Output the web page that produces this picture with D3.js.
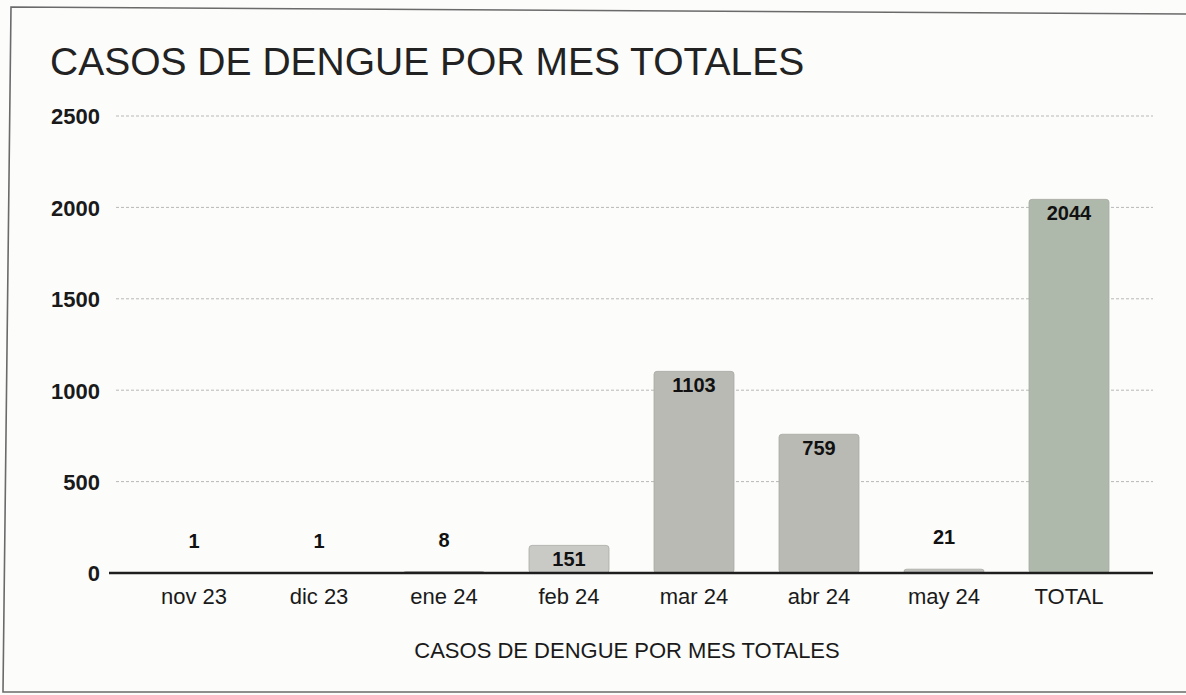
<!DOCTYPE html>
<html>
<head>
<meta charset="utf-8">
<script src="https://cdn.jsdelivr.net/npm/d3@7/dist/d3.min.js"></script>
<style>
  html, body { margin: 0; padding: 0; background: #fcfcfb; }
  svg { display: block; }
  text { font-family: "Liberation Sans", Arial, sans-serif; fill: #1a1a1a; }
</style>
</head>
<body>
<svg id="chart" width="1186" height="695"></svg>
<script>
// ---- data ----
const categories = ["nov 23", "dic 23", "ene 24", "feb 24", "mar 24", "abr 24", "may 24", "TOTAL"];
const values = [1, 1, 8, 151, 1103, 759, 21, 2044];
const yTicks = [0, 500, 1000, 1500, 2000, 2500];
const chartTitle = "CASOS DE DENGUE POR MES TOTALES";
const axisTitle = "CASOS DE DENGUE POR MES TOTALES";

// ---- styles ----
const barColors = ["#bdbdb8", "#bdbdb8", "#bdbdb8", "#c9c9c6", "#b9bab4", "#b8bab3", "#bebebb", "#aeb9ab"];

const svg = d3.select("#chart");
const W = 1186, H = 695;

// page frame (photo of printed chart)
svg.append("rect").attr("x", 0).attr("y", 0).attr("width", W).attr("height", H).attr("fill", "#fcfcfb");
svg.append("path")
  .attr("d", "M1186,14 L11,7 L3,692 L1186,692")
  .attr("fill", "none").attr("stroke", "#6a6a6a").attr("stroke-width", 1.6);

const plotLeft = 109, plotRight = 1153;
const x = d3.scaleBand().domain(categories).range([131.5, 1131.5]).paddingInner(0.36).paddingOuter(0.18);
const y = d3.scaleLinear().domain([0, 2500]).range([573, 116]);

// gridlines
svg.append("g").selectAll("line").data(yTicks.filter(d => d > 0)).join("line")
  .attr("x1", 116).attr("x2", plotRight)
  .attr("y1", d => y(d)).attr("y2", d => y(d))
  .attr("stroke", "#b8b8b8").attr("stroke-width", 1).attr("stroke-dasharray", "3,2");

// y-axis tick labels via d3 axis
const yAxis = svg.append("g").attr("transform", "translate(100,0)")
  .call(d3.axisLeft(y).tickValues(yTicks).tickSize(0).tickPadding(0).tickFormat(d3.format("d")));
yAxis.select(".domain").remove();
yAxis.selectAll("text")
  .style("font-family", "'Liberation Sans', Arial, sans-serif")
  .style("font-size", "22px").style("font-weight", "bold").style("fill", "#1a1a1a")
  .attr("dy", "0.36em");

// bars
svg.append("g").selectAll("rect").data(values).join("rect")
  .attr("x", (d, i) => x(categories[i]))
  .attr("y", d => y(d))
  .attr("width", x.bandwidth())
  .attr("height", d => y(0) - y(d))
  .attr("rx", 3)
  .attr("fill", (d, i) => barColors[i])
  .attr("stroke", "#a9aaa5").attr("stroke-width", 0.8);

// baseline axis
svg.append("line")
  .attr("x1", plotLeft).attr("x2", plotRight)
  .attr("y1", y(0)).attr("y2", y(0))
  .attr("stroke", "#1e1e1e").attr("stroke-width", 2.5);

// x-axis labels via d3 axis
const xAxis = svg.append("g").attr("transform", `translate(0,${y(0)})`)
  .call(d3.axisBottom(x).tickSize(0).tickPadding(0));
xAxis.select(".domain").remove();
xAxis.selectAll("text")
  .style("font-family", "'Liberation Sans', Arial, sans-serif")
  .style("font-size", "22px").style("fill", "#1a1a1a")
  .attr("dy", "0").attr("y", 31);

// data labels
svg.append("g").selectAll("text").data(values).join("text")
  .attr("x", (d, i) => x(categories[i]) + x.bandwidth() / 2)
  .attr("y", d => (y(0) - y(d) > 20) ? y(d) + 21 : y(d) - 25)
  .attr("text-anchor", "middle")
  .style("font-size", "20px").style("font-weight", "bold").style("fill", "#111")
  .text(d => d);

// chart title
svg.append("text").attr("x", 50).attr("y", 75)
  .style("font-size", "39px").style("fill", "#222")
  .text(chartTitle);

// axis title
svg.append("text").attr("x", 627).attr("y", 658).attr("text-anchor", "middle")
  .style("font-size", "22px").style("fill", "#1a1a1a")
  .text(axisTitle);
</script>
</body>
</html>
